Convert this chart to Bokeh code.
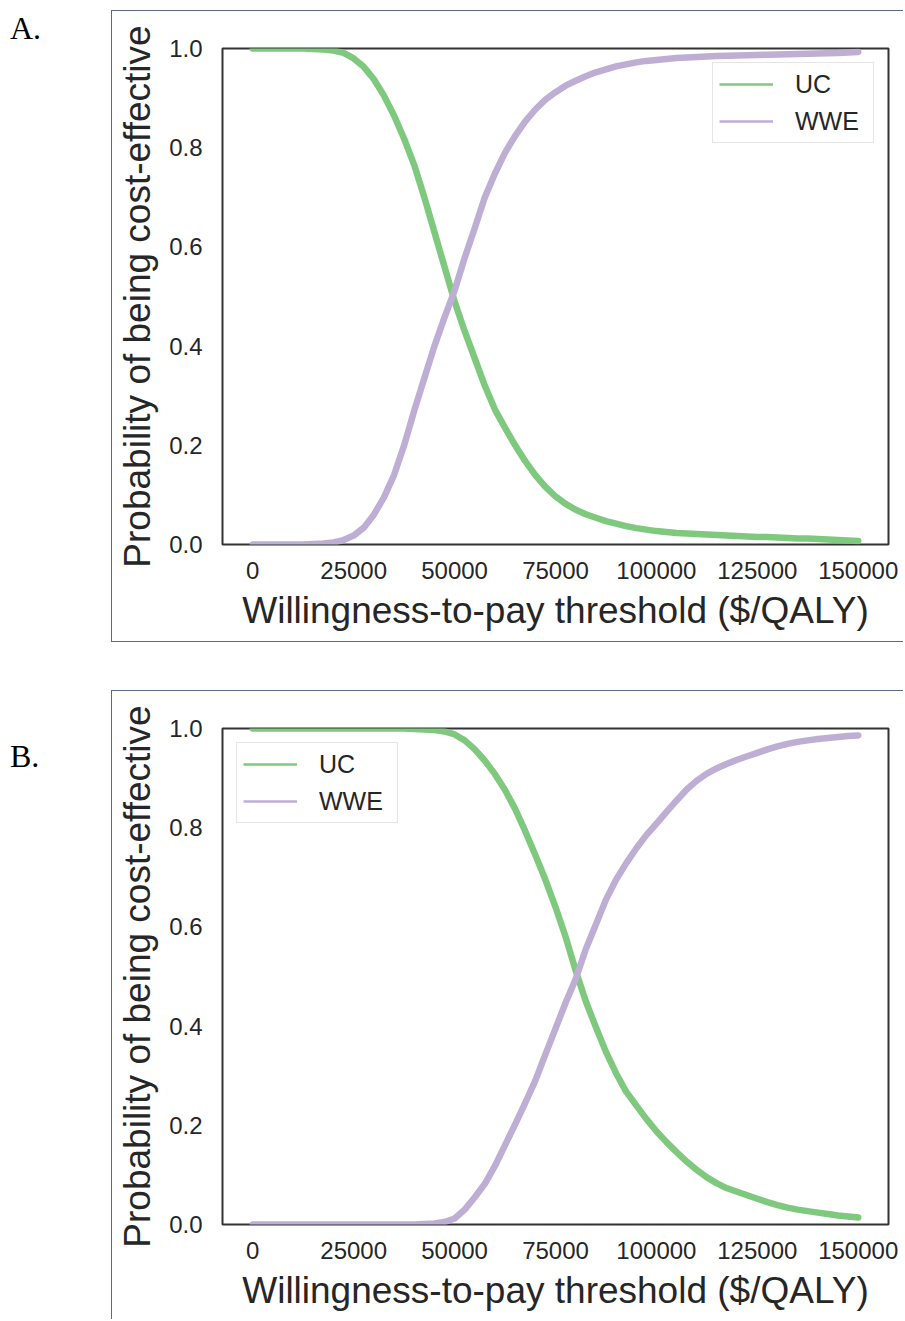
from bokeh.plotting import figure
from bokeh.layouts import column, row
from bokeh.models import (Legend, LegendItem, Range1d, Div,
                          FixedTicker, NumeralTickFormatter)
from bokeh.embed import file_html
from bokeh.resources import INLINE

# ---------------- data ----------------
wtp = [0, 2500, 5000, 7500, 10000, 12500, 15000, 17500, 20000, 22500,
       25000, 27500, 30000, 32500, 35000, 37500, 40000, 42500, 45000, 47500,
       50000, 52500, 55000, 57500, 60000, 62500, 65000, 67500, 70000, 72500,
       75000, 77500, 80000, 82500, 85000, 87500, 90000, 92500, 95000, 97500,
       100000, 102500, 105000, 107500, 110000, 112500, 115000, 117500, 120000, 122500,
       125000, 127500, 130000, 132500, 135000, 137500, 140000, 142500, 145000, 147500,
       150000]

uc_a = [1.000, 1.000, 1.000, 1.000, 1.000, 1.000, 0.999, 0.998, 0.996, 0.991,
        0.980, 0.963, 0.938, 0.905, 0.865, 0.818, 0.765, 0.700, 0.630, 0.560,
        0.490, 0.430, 0.375, 0.320, 0.272, 0.235, 0.200, 0.168, 0.140, 0.116,
        0.097, 0.082, 0.070, 0.061, 0.054, 0.047, 0.042, 0.037, 0.033, 0.030,
        0.027, 0.025, 0.023, 0.022, 0.021, 0.020, 0.019, 0.018, 0.017, 0.016,
        0.015, 0.015, 0.014, 0.013, 0.012, 0.012, 0.011, 0.010, 0.009, 0.008,
        0.007]
wwe_a = [0.000, 0.000, 0.000, 0.000, 0.000, 0.000, 0.001, 0.002, 0.004, 0.009,
         0.018, 0.034, 0.060, 0.095, 0.140, 0.200, 0.270, 0.335, 0.400, 0.458,
         0.512, 0.578, 0.638, 0.700, 0.748, 0.790, 0.824, 0.853, 0.877, 0.897,
         0.912, 0.925, 0.935, 0.944, 0.952, 0.958, 0.964, 0.968, 0.972, 0.975,
         0.977, 0.979, 0.981, 0.982, 0.983, 0.984, 0.985, 0.9855, 0.986, 0.9865,
         0.987, 0.9875, 0.988, 0.9885, 0.989, 0.9895, 0.990, 0.9905, 0.991, 0.992,
         0.993]

uc_b = [1.000, 1.000, 1.000, 1.000, 1.000, 1.000, 1.000, 1.000, 1.000, 1.000,
        1.000, 1.000, 1.000, 1.000, 1.000, 1.000, 0.999, 0.998, 0.997, 0.994,
        0.988, 0.976, 0.958, 0.935, 0.908, 0.876, 0.838, 0.793, 0.745, 0.695,
        0.640, 0.580, 0.512, 0.450, 0.398, 0.348, 0.305, 0.268, 0.240, 0.213,
        0.188, 0.166, 0.146, 0.127, 0.110, 0.095, 0.083, 0.073, 0.066, 0.059,
        0.052, 0.045, 0.039, 0.034, 0.030, 0.027, 0.024, 0.021, 0.018, 0.016,
        0.014]
wwe_b = [0.000, 0.000, 0.000, 0.000, 0.000, 0.000, 0.000, 0.000, 0.000, 0.000,
         0.000, 0.000, 0.000, 0.000, 0.000, 0.000, 0.000, 0.001, 0.002, 0.005,
         0.012, 0.030, 0.055, 0.082, 0.118, 0.160, 0.202, 0.245, 0.290, 0.343,
         0.395, 0.447, 0.495, 0.555, 0.605, 0.655, 0.695, 0.728, 0.758, 0.785,
         0.808, 0.832, 0.855, 0.877, 0.895, 0.909, 0.920, 0.929, 0.937, 0.944,
         0.951, 0.958, 0.964, 0.969, 0.973, 0.976, 0.979, 0.981, 0.983, 0.985,
         0.986]

x_ticks = [0, 25000, 50000, 75000, 100000, 125000, 150000]
y_ticks = [0.0, 0.2, 0.4, 0.6, 0.8, 1.0]
series_names = ["UC", "WWE"]
series_colors = ["#7fc97f", "#beaed4"]
panel_letters = ["A.", "B."]

FONT = "Liberation Sans"
TXT = "#262626"
FRAME = "#5b6b8c"


def make_panel(uc, wwe, width, height, top, left, legend_loc, margin, styles):
    bottom = height - top - 496
    p = figure(width=width, height=height, output_backend="svg", toolbar_location=None,
               x_range=Range1d(-7500, 157500), y_range=Range1d(0, 1),
               min_border_left=left, min_border_right=width - left - 666,
               min_border_top=top, min_border_bottom=bottom,
               background_fill_color="white", border_fill_color="white",
               margin=margin, styles=styles)
    p.outline_line_color = "#333333"
    p.outline_line_width = 2
    p.xgrid.grid_line_color = None
    p.ygrid.grid_line_color = None

    for ax in (p.xaxis[0], p.yaxis[0]):
        ax.axis_line_color = None
        ax.major_tick_line_color = None
        ax.minor_tick_line_color = None
        ax.major_tick_out = 0
        ax.major_tick_in = 0
        ax.major_label_text_font = FONT
        ax.major_label_text_font_size = "24px"
        ax.major_label_text_color = TXT
        ax.axis_label_text_font = FONT
        ax.axis_label_text_font_size = "37px"
        ax.axis_label_text_font_style = "normal"
        ax.axis_label_text_color = TXT

    p.xaxis.ticker = FixedTicker(ticks=x_ticks)
    p.xaxis.formatter = NumeralTickFormatter(format="0")
    p.xaxis.major_label_standoff = 17
    p.xaxis.axis_label = "Willingness-to-pay threshold ($/QALY)"
    p.xaxis.axis_label_standoff = 8

    p.yaxis.ticker = FixedTicker(ticks=y_ticks)
    p.yaxis.formatter = NumeralTickFormatter(format="0.0")
    p.yaxis.major_label_standoff = 20
    p.yaxis.axis_label = "Probability of being cost-effective"
    p.yaxis.axis_label_standoff = 8

    dummies = []
    for col, ys in zip(series_colors, [uc, wwe]):
        p.line(wtp, ys, line_color=col, line_width=6.5, line_cap="round",
               line_join="round")
        # one-point line: draws nothing in the plot, supplies the thin legend swatch
        dummies.append(p.line(x=wtp[:1], y=ys[:1], line_color=col, line_width=2.5,
                              line_cap="butt"))

    legend = Legend(items=[LegendItem(label=n, renderers=[d]) for n, d in zip(series_names, dummies)],
                    location=legend_loc, glyph_width=54, glyph_height=30,
                    label_standoff=22, spacing=7, padding=6, margin=14,
                    label_width=72,
                    label_text_font=FONT, label_text_font_size="25px",
                    label_text_color=TXT,
                    border_line_color="#cccccc", border_line_width=1,
                    background_fill_color="white", background_fill_alpha=0.8)
    p.add_layout(legend)
    return p


def letter_div(text, height, top):
    html = ('<div style="position:relative; left:10px; top:%dpx; line-height:1; '
            'font-family:\'Liberation Serif\', serif; font-size:32px; color:black;">%s</div>'
            % (top, text))
    return Div(text=html, width=111, height=height, margin=0)


# Panel A row: total height 667 px
pA = make_panel(uc_a, wwe_a, width=792, height=632, top=37, left=110,
                legend_loc="top_right", margin=(10, 0, 22, 0),
                styles={"border-left": "1.5px solid " + FRAME,
                        "border-top": "1.5px solid " + FRAME,
                        "border-bottom": "1.5px solid " + FRAME})
rowA = row(letter_div(panel_letters[0], 667, 12), pA, spacing=0)

# Panel B row: total height 654 px
pB = make_panel(uc_b, wwe_b, width=792, height=629, top=37, left=110,
                legend_loc="top_left", margin=(23, 0, 0, 0),
                styles={"border-left": "1.5px solid " + FRAME,
                        "border-top": "1.5px solid " + FRAME})
rowB = row(letter_div(panel_letters[1], 654, 73), pB, spacing=0)

layout = column(rowA, rowB, spacing=0)
open("out.html", "w").write(file_html(layout, INLINE))
